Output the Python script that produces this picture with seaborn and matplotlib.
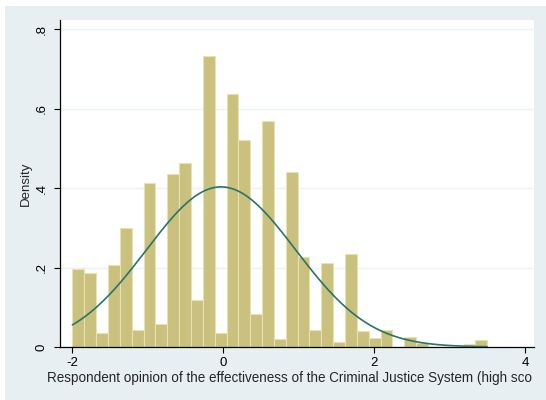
import numpy as np
import pandas as pd
import matplotlib
matplotlib.use("Agg")
import matplotlib.pyplot as plt
from matplotlib.patches import Rectangle
import seaborn as sns

# Histogram: 35 equal-width bins from -2 to 3.5, heights as densities
bin_start = -2.0
bin_end = 3.5
n_bins = 35
densities = [0.197, 0.186, 0.035, 0.207, 0.299, 0.042, 0.412, 0.058, 0.436, 0.464,
             0.119, 0.732, 0.036, 0.637, 0.520, 0.083, 0.569, 0.020, 0.440, 0.226,
             0.043, 0.211, 0.012, 0.235, 0.040, 0.022, 0.044, 0.000, 0.024, 0.011,
             0.000, 0.000, 0.000, 0.008, 0.017]

# Fitted normal density
norm_mean = -0.03
norm_sd = 0.99

x_ticks = [-2, 0, 2, 4]
x_tick_labels = ["-2", "0", "2", "4"]
y_ticks = [0, 0.2, 0.4, 0.6, 0.8]
y_tick_labels = ["0", ".2", ".4", ".6", ".8"]
x_title = "Respondent opinion of the effectiveness of the Criminal Justice System (high sco"
y_title = "Density"

edges = np.linspace(bin_start, bin_end, n_bins + 1)
centers = (edges[:-1] + edges[1:]) / 2
hist_df = pd.DataFrame({"score": centers, "density": densities})

xs = np.linspace(bin_start, bin_end, 300)
pdf = np.exp(-0.5 * ((xs - norm_mean) / norm_sd) ** 2) / (norm_sd * np.sqrt(2 * np.pi))
curve_df = pd.DataFrame({"score": xs, "pdf": pdf})

sns.set_style("white")
plt.rcParams["font.family"] = ["Liberation Sans", "DejaVu Sans"]

W, H = 546, 400
fig = plt.figure(figsize=(W / 100, H / 100), dpi=100, facecolor="white")
bg = "#e8eff2"
fig.patches.append(Rectangle((5 / W, 0), 1, 1 - 6 / H, transform=fig.transFigure,
                             facecolor=bg, edgecolor="none", zorder=-10))

left, right, top, bottom = 59.5, 534, 20, 347
ax = fig.add_axes([left / W, (H - bottom) / H, (right - left) / W, (bottom - top) / H])
ax.set_facecolor("white")

sns.histplot(data=hist_df, x="score", weights="density", bins=edges.tolist(), stat="count",
             color="#cac17e", edgecolor="#e7e1b3", linewidth=0.8, alpha=1.0, ax=ax, zorder=2)
sns.lineplot(data=curve_df, x="score", y="pdf", color="#2a7468", linewidth=1.2, ax=ax, zorder=3)

ax.set_xlim(-2.172, 4.12)
ax.set_ylim(0, 0.823)
ax.set_xticks(x_ticks)
ax.set_xticklabels(x_tick_labels, fontsize=9.5)
ax.set_yticks(y_ticks)
ax.set_yticklabels(y_tick_labels, fontsize=9.5, rotation=90, va="center")
for y in y_ticks[1:]:
    ax.axhline(y, color="#eaf2f3", linewidth=1.0, zorder=1)

ax.set_xlabel("")
ax.set_ylabel("")
for s in ["top", "right"]:
    ax.spines[s].set_visible(False)
for s in ["left", "bottom"]:
    ax.spines[s].set_color("black")
    ax.spines[s].set_linewidth(0.9)
ax.tick_params(axis="both", direction="out", length=4.3, width=0.8, color="black",
               labelcolor="black", left=True, bottom=True)
ax.tick_params(axis="x", pad=3)
ax.tick_params(axis="y", pad=4)

fig.text(47.0 / W, (H - 381.7) / H, x_title, fontsize=9.75, ha="left", va="baseline")
fig.text(26.0 / W, (H - 183.5) / H, y_title, fontsize=9.5, ha="center", va="center", rotation=90)

fig.savefig("out.png", dpi=100, facecolor="white")
